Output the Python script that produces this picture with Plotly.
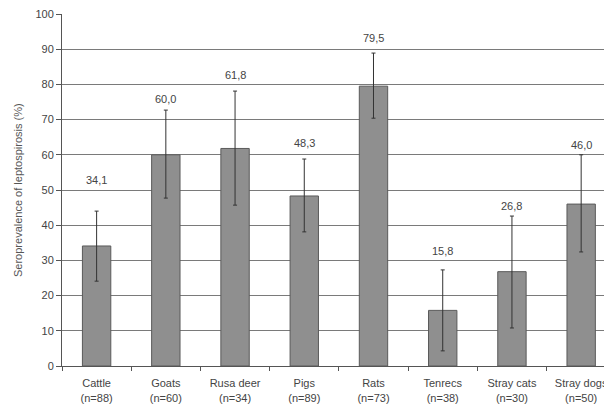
import plotly.graph_objects as go

categories = ["Cattle", "Goats", "Rusa deer", "Pigs", "Rats", "Tenrecs", "Stray cats", "Stray dogs"]
sample_sizes = [88, 60, 34, 89, 73, 38, 30, 50]
prevalence = [34.1, 60.0, 61.8, 48.3, 79.5, 15.8, 26.8, 46.0]
ci_upper = [44.0, 72.7, 78.1, 58.8, 88.9, 27.3, 42.6, 60.0]
ci_lower = [24.1, 47.7, 45.7, 38.1, 70.4, 4.3, 10.8, 32.4]
label_shift = [31, 11, 16, 16, 15, 19, 10, 10]
y_title = "Seroprevalence of leptospirosis (%)"

tick_text = [f"{c}<br>(n={n})" for c, n in zip(categories, sample_sizes)]
err_plus = [u - v for u, v in zip(ci_upper, prevalence)]
err_minus = [v - l for v, l in zip(prevalence, ci_lower)]

font_family = "Liberation Sans, Arial, sans-serif"
text_color = "#444444"

fig = go.Figure()
fig.add_trace(go.Bar(
    x=categories,
    y=prevalence,
    marker=dict(color="#8f8f8f", line=dict(color="#5a5a5a", width=1)),
    error_y=dict(type="data", symmetric=False, array=err_plus, arrayminus=err_minus,
                 color="#333333", thickness=1, width=2),
    width=0.41,
    hoverinfo="skip",
))

for c, u, v, s in zip(categories, ci_upper, prevalence, label_shift):
    fig.add_annotation(
        x=c, y=u, text=f"{v:.1f}".replace(".", ","),
        showarrow=False, yshift=s, yanchor="middle",
        font=dict(family=font_family, size=11, color=text_color),
    )

fig.add_annotation(
    xref="paper", yref="paper", x=0, y=0.5, xshift=-44,
    text=y_title, textangle=-90, showarrow=False,
    xanchor="center", yanchor="middle",
    font=dict(family=font_family, size=11, color="#555555"),
)

fig.update_layout(
    width=604, height=415,
    margin=dict(l=62, r=0, t=14, b=49, autoexpand=False),
    paper_bgcolor="white", plot_bgcolor="white",
    showlegend=False,
    font=dict(family=font_family, size=11, color=text_color),
    xaxis=dict(
        type="category", automargin=False,
        tickmode="array", tickvals=categories, ticktext=tick_text,
        range=[-0.5, 7.33],
        showline=True, linecolor="#555555", linewidth=1,
        ticks="outside", tickson="boundaries", ticklen=4, tickcolor="#555555",
        showgrid=False, ticklabeloverflow="allow", ticklabelstandoff=7,
        tickfont=dict(family=font_family, size=11, color=text_color),
    ),
    yaxis=dict(
        range=[0, 100], dtick=10, automargin=False,
        showgrid=True, gridcolor="#7a7a7a", gridwidth=1,
        showline=True, linecolor="#555555", linewidth=1,
        ticks="outside", ticklen=5, tickcolor="#555555",
        zeroline=False, ticklabeloverflow="allow",
        tickfont=dict(family=font_family, size=11, color=text_color),
    ),
)

fig.write_html(
    "out.html",
    config={"displayModeBar": False},
    post_script="document.body.style.margin='0';document.body.style.overflow='hidden';",
)
